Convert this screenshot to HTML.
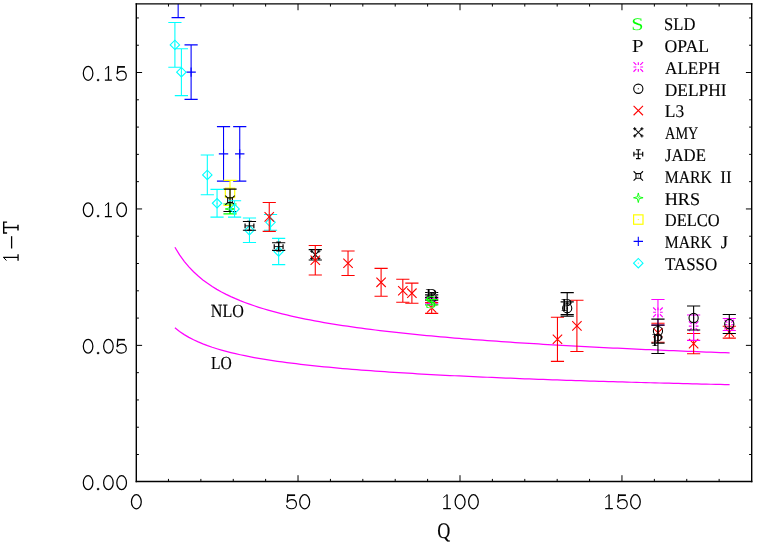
<!DOCTYPE html><html><head><meta charset="utf-8"><title>1-T vs Q</title>
<style>html,body{margin:0;padding:0;background:#fff}svg{display:block}text{font-family:"Liberation Serif",serif;fill:#000;text-rendering:geometricPrecision;stroke:#fff;stroke-width:0;paint-order:fill stroke}.n text{stroke-width:.3px}text.k{stroke-width:.1px}text.b{stroke:#000;stroke-width:.15px}</style></head><body>
<svg width="757" height="545" viewBox="0 0 757 545">
<rect width="757" height="545" fill="#fff"/><g opacity=".999">
<defs><clipPath id="c"><rect x="136.3" y="3.95" width="615.4" height="477.5"/></clipPath></defs>
<path d="M174.90,247.25 L179.57,254.90 L184.23,261.37 L188.89,266.93 L193.55,271.79 L198.21,276.08 L202.87,279.91 L207.53,283.36 L212.20,286.49 L216.86,289.34 L221.52,291.96 L226.18,294.37 L230.84,296.61 L235.50,298.69 L240.16,300.64 L244.82,302.46 L249.49,304.17 L254.15,305.78 L258.81,307.31 L263.47,308.75 L268.13,310.12 L272.79,311.42 L277.45,312.66 L282.12,313.84 L286.78,314.97 L291.44,316.05 L296.10,317.08 L300.76,318.08 L305.42,319.03 L310.08,319.95 L314.75,320.83 L319.41,321.68 L324.07,322.51 L328.73,323.30 L333.39,324.07 L338.05,324.81 L342.71,325.53 L347.38,326.22 L352.04,326.90 L356.70,327.56 L361.36,328.19 L366.02,328.81 L370.68,329.41 L375.34,330.00 L380.01,330.56 L384.67,331.12 L389.33,331.66 L393.99,332.19 L398.65,332.70 L403.31,333.20 L407.97,333.69 L412.64,334.17 L417.30,334.63 L421.96,335.09 L426.62,335.54 L431.28,335.97 L435.94,336.40 L440.60,336.82 L445.27,337.23 L449.93,337.63 L454.59,338.02 L459.25,338.41 L463.91,338.79 L468.57,339.16 L473.23,339.52 L477.89,339.88 L482.56,340.23 L487.22,340.57 L491.88,340.91 L496.54,341.24 L501.20,341.56 L505.86,341.89 L510.52,342.20 L515.19,342.51 L519.85,342.81 L524.51,343.11 L529.17,343.41 L533.83,343.70 L538.49,343.98 L543.15,344.26 L547.82,344.54 L552.48,344.81 L557.14,345.08 L561.80,345.35 L566.46,345.61 L571.12,345.86 L575.78,346.12 L580.45,346.37 L585.11,346.61 L589.77,346.85 L594.43,347.09 L599.09,347.33 L603.75,347.56 L608.41,347.79 L613.08,348.02 L617.74,348.24 L622.40,348.46 L627.06,348.68 L631.72,348.90 L636.38,349.11 L641.04,349.32 L645.71,349.53 L650.37,349.73 L655.03,349.93 L659.69,350.13 L664.35,350.33 L669.01,350.53 L673.67,350.72 L678.33,350.91 L683.00,351.10 L687.66,351.28 L692.32,351.47 L696.98,351.65 L701.64,351.83 L706.30,352.01 L710.96,352.19 L715.63,352.36 L720.29,352.53 L724.95,352.70 L729.61,352.87" fill="none" stroke="#ff00ff" stroke-width="1.25"/>
<path d="M174.90,327.80 L179.57,331.47 L184.23,334.61 L188.89,337.36 L193.55,339.78 L198.21,341.94 L202.87,343.89 L207.53,345.66 L212.20,347.28 L216.86,348.76 L221.52,350.13 L226.18,351.40 L230.84,352.59 L235.50,353.70 L240.16,354.74 L244.82,355.72 L249.49,356.64 L254.15,357.52 L258.81,358.35 L263.47,359.13 L268.13,359.88 L272.79,360.60 L277.45,361.28 L282.12,361.93 L286.78,362.56 L291.44,363.16 L296.10,363.74 L300.76,364.29 L305.42,364.83 L310.08,365.35 L314.75,365.84 L319.41,366.32 L324.07,366.79 L328.73,367.24 L333.39,367.67 L338.05,368.10 L342.71,368.51 L347.38,368.90 L352.04,369.29 L356.70,369.67 L361.36,370.03 L366.02,370.39 L370.68,370.73 L375.34,371.07 L380.01,371.40 L384.67,371.72 L389.33,372.03 L393.99,372.34 L398.65,372.63 L403.31,372.93 L407.97,373.21 L412.64,373.49 L417.30,373.76 L421.96,374.03 L426.62,374.29 L431.28,374.54 L435.94,374.79 L440.60,375.04 L445.27,375.28 L449.93,375.52 L454.59,375.75 L459.25,375.98 L463.91,376.20 L468.57,376.42 L473.23,376.63 L477.89,376.84 L482.56,377.05 L487.22,377.25 L491.88,377.45 L496.54,377.65 L501.20,377.84 L505.86,378.04 L510.52,378.22 L515.19,378.41 L519.85,378.59 L524.51,378.77 L529.17,378.94 L533.83,379.12 L538.49,379.29 L543.15,379.46 L547.82,379.62 L552.48,379.78 L557.14,379.95 L561.80,380.10 L566.46,380.26 L571.12,380.41 L575.78,380.57 L580.45,380.72 L585.11,380.87 L589.77,381.01 L594.43,381.16 L599.09,381.30 L603.75,381.44 L608.41,381.58 L613.08,381.71 L617.74,381.85 L622.40,381.98 L627.06,382.12 L631.72,382.25 L636.38,382.38 L641.04,382.50 L645.71,382.63 L650.37,382.75 L655.03,382.88 L659.69,383.00 L664.35,383.12 L669.01,383.24 L673.67,383.35 L678.33,383.47 L683.00,383.59 L687.66,383.70 L692.32,383.81 L696.98,383.92 L701.64,384.03 L706.30,384.14 L710.96,384.25 L715.63,384.36 L720.29,384.46 L724.95,384.57 L729.61,384.67" fill="none" stroke="#ff00ff" stroke-width="1.25"/>
<g clip-path="url(#c)">
<path d="M178.15,-36.88V17.63M171.55,-36.88H184.75M171.55,17.63H184.75" stroke="#0000ff" stroke-width="1.1" fill="none"/>
<path d="M173.45,-9.63H182.85M178.15,-14.33V-4.93" stroke="#0000ff" stroke-width="1.1" fill="none"/>
<path d="M191.11,44.89V99.40M184.51,44.89H197.71M184.51,99.40H197.71" stroke="#0000ff" stroke-width="1.1" fill="none"/>
<path d="M186.41,72.15H195.81M191.11,67.45V76.85" stroke="#0000ff" stroke-width="1.1" fill="none"/>
<path d="M223.53,126.66V181.17M216.93,126.66H230.13M216.93,181.17H230.13" stroke="#0000ff" stroke-width="1.1" fill="none"/>
<path d="M218.83,153.92H228.23M223.53,149.22V158.62" stroke="#0000ff" stroke-width="1.1" fill="none"/>
<path d="M239.74,126.66V181.17M233.14,126.66H246.34M233.14,181.17H246.34" stroke="#0000ff" stroke-width="1.1" fill="none"/>
<path d="M235.04,153.92H244.44M239.74,149.22V158.62" stroke="#0000ff" stroke-width="1.1" fill="none"/>
<path d="M230.02,180.36V205.43M223.42,180.36H236.62M223.42,205.43H236.62" stroke="#ffff00" stroke-width="1.1" fill="none"/>
<rect x="225.32" y="188.19" width="9.40" height="9.40" fill="none" stroke="#ffff00" stroke-width="1.2"/><rect x="229.52" y="192.39" width="1" height="1" fill="#ffff00"/>
<path d="M230.02,204.07V213.88M223.42,204.07H236.62M223.42,213.88H236.62" stroke="#00ff00" stroke-width="1.1" fill="none"/>
<path d="M230.02,204.18L230.97,208.03L234.82,208.98L230.97,209.93L230.02,213.78L229.07,209.93L225.22,208.98L229.07,208.03Z" fill="none" stroke="#00ff00" stroke-width="0.9" stroke-linejoin="round"/><rect x="229.57" y="208.53" width=".9" height=".9" fill="#00ff00"/>
<path d="M230.02,189.08V211.43M223.42,189.08H236.62M223.42,211.43H236.62" stroke="#000" stroke-width="1.1" fill="none"/>
<path d="M225.32,195.55L227.67,197.90M234.72,195.55L232.37,197.90M225.32,204.95L227.67,202.60M234.72,204.95L232.37,202.60M227.67,197.90H232.37V202.60H227.67Z" stroke="#000" stroke-width="1.1" fill="none"/><rect x="229.62" y="199.45" width=".8" height="1.6" fill="#000" opacity=".5"/>
<path d="M174.90,22.54V67.24M168.30,22.54H181.50M168.30,67.24H181.50" stroke="#00ffff" stroke-width="1.1" fill="none"/>
<path d="M170.20,44.89L174.90,40.19L179.60,44.89L174.90,49.59Z" fill="none" stroke="#00ffff" stroke-width="1.1"/><rect x="174.40" y="44.39" width="1" height="1" fill="#00ffff"/>
<path d="M181.39,48.70V95.59M174.79,48.70H187.99M174.79,95.59H187.99" stroke="#00ffff" stroke-width="1.1" fill="none"/>
<path d="M176.69,72.15L181.39,67.45L186.09,72.15L181.39,76.85Z" fill="none" stroke="#00ffff" stroke-width="1.1"/><rect x="180.89" y="71.65" width="1" height="1" fill="#00ffff"/>
<path d="M207.32,155.01V194.80M200.72,155.01H213.92M200.72,194.80H213.92" stroke="#00ffff" stroke-width="1.1" fill="none"/>
<path d="M202.62,174.90L207.32,170.20L212.02,174.90L207.32,179.60Z" fill="none" stroke="#00ffff" stroke-width="1.1"/><rect x="206.82" y="174.40" width="1" height="1" fill="#00ffff"/>
<path d="M217.05,189.35V217.15M210.45,189.35H223.65M210.45,217.15H223.65" stroke="#00ffff" stroke-width="1.1" fill="none"/>
<path d="M212.35,203.25L217.05,198.55L221.75,203.25L217.05,207.95Z" fill="none" stroke="#00ffff" stroke-width="1.1"/><rect x="216.55" y="202.75" width="1" height="1" fill="#00ffff"/>
<path d="M234.56,200.80V217.15M227.96,200.80H241.16M227.96,217.15H241.16" stroke="#00ffff" stroke-width="1.1" fill="none"/>
<path d="M229.86,208.98L234.56,204.28L239.26,208.98L234.56,213.68Z" fill="none" stroke="#00ffff" stroke-width="1.1"/><rect x="234.06" y="208.48" width="1" height="1" fill="#00ffff"/>
<path d="M249.47,217.97V242.50M242.87,217.97H256.07M242.87,242.50H256.07" stroke="#00ffff" stroke-width="1.1" fill="none"/>
<path d="M244.77,230.24L249.47,225.54L254.17,230.24L249.47,234.94Z" fill="none" stroke="#00ffff" stroke-width="1.1"/><rect x="248.97" y="229.74" width="1" height="1" fill="#00ffff"/>
<path d="M270.54,214.43V230.24M263.94,214.43H277.14M263.94,230.24H277.14" stroke="#00ffff" stroke-width="1.1" fill="none"/>
<path d="M265.84,222.33L270.54,217.63L275.24,222.33L270.54,227.03Z" fill="none" stroke="#00ffff" stroke-width="1.1"/><rect x="270.04" y="221.83" width="1" height="1" fill="#00ffff"/>
<path d="M278.65,238.41V264.58M272.05,238.41H285.25M272.05,264.58H285.25" stroke="#00ffff" stroke-width="1.1" fill="none"/>
<path d="M273.95,251.50L278.65,246.80L283.35,251.50L278.65,256.20Z" fill="none" stroke="#00ffff" stroke-width="1.1"/><rect x="278.15" y="251.00" width="1" height="1" fill="#00ffff"/>
<path d="M249.47,221.51V230.24M242.87,221.51H256.07M242.87,230.24H256.07" stroke="#000" stroke-width="1.1" fill="none"/>
<path d="M249.47,221.47V230.27M245.07,223.57V228.17M253.87,223.57V228.17M247.17,221.47H251.77M247.17,230.27H251.77" stroke="#000" stroke-width="1.2" fill="none"/>
<path d="M245.07,225.87H253.87" stroke="#000" stroke-width="0.9" fill="none"/>
<path d="M278.65,242.77V250.41M272.05,242.77H285.25M272.05,250.41H285.25" stroke="#000" stroke-width="1.1" fill="none"/>
<path d="M278.65,242.19V250.99M274.25,244.29V248.89M283.05,244.29V248.89M276.35,242.19H280.95M276.35,250.99H280.95" stroke="#000" stroke-width="1.2" fill="none"/>
<path d="M274.25,246.59H283.05" stroke="#000" stroke-width="0.9" fill="none"/>
<path d="M315.28,249.59V259.95M308.68,249.59H321.88M308.68,259.95H321.88" stroke="#000" stroke-width="1.1" fill="none"/>
<path d="M311.68,251.17L318.88,258.37M311.68,258.37L318.88,251.17" stroke="#000" stroke-width="1.05" fill="none"/>
<path d="M310.08,251.17H313.28M311.68,249.57V252.77M310.08,258.37H313.28M311.68,256.77V259.97M317.28,251.17H320.48M318.88,249.57V252.77M317.28,258.37H320.48M318.88,256.77V259.97" stroke="#000" stroke-width="1.0" fill="none"/>
<path d="M269.25,202.43V231.33M262.65,202.43H275.85M262.65,231.33H275.85" stroke="#ff0000" stroke-width="1.1" fill="none"/>
<path d="M264.55,212.18L273.95,221.58M264.55,221.58L273.95,212.18" stroke="#ff0000" stroke-width="1.1" fill="none"/>
<path d="M315.28,245.50V274.94M308.68,245.50H321.88M308.68,274.94H321.88" stroke="#ff0000" stroke-width="1.1" fill="none"/>
<path d="M310.58,255.52L319.98,264.92M310.58,264.92L319.98,255.52" stroke="#ff0000" stroke-width="1.1" fill="none"/>
<path d="M348.03,250.95V275.48M341.43,250.95H354.63M341.43,275.48H354.63" stroke="#ff0000" stroke-width="1.1" fill="none"/>
<path d="M343.33,258.52L352.73,267.92M343.33,267.92L352.73,258.52" stroke="#ff0000" stroke-width="1.1" fill="none"/>
<path d="M381.10,268.40V296.20M374.50,268.40H387.70M374.50,296.20H387.70" stroke="#ff0000" stroke-width="1.1" fill="none"/>
<path d="M376.40,277.60L385.80,287.00M376.40,287.00L385.80,277.60" stroke="#ff0000" stroke-width="1.1" fill="none"/>
<path d="M402.82,279.30V302.19M396.22,279.30H409.42M396.22,302.19H409.42" stroke="#ff0000" stroke-width="1.1" fill="none"/>
<path d="M398.12,286.05L407.52,295.45M398.12,295.45L407.52,286.05" stroke="#ff0000" stroke-width="1.1" fill="none"/>
<path d="M411.89,283.11V303.28M405.29,283.11H418.49M405.29,303.28H418.49" stroke="#ff0000" stroke-width="1.1" fill="none"/>
<path d="M407.19,288.50L416.59,297.90M407.19,297.90L416.59,288.50" stroke="#ff0000" stroke-width="1.1" fill="none"/>
<path d="M431.67,302.47V313.37M425.07,302.47H438.27M425.07,313.37H438.27" stroke="#ff0000" stroke-width="1.1" fill="none"/>
<path d="M426.97,303.22L436.37,312.62M426.97,312.62L436.37,303.22" stroke="#ff0000" stroke-width="1.1" fill="none"/>
<path d="M557.46,317.19V361.34M550.86,317.19H564.06M550.86,361.34H564.06" stroke="#ff0000" stroke-width="1.1" fill="none"/>
<path d="M552.76,334.56L562.16,343.96M552.76,343.96L562.16,334.56" stroke="#ff0000" stroke-width="1.1" fill="none"/>
<path d="M576.91,300.29V351.53M570.31,300.29H583.51M570.31,351.53H583.51" stroke="#ff0000" stroke-width="1.1" fill="none"/>
<path d="M572.21,321.21L581.61,330.61M572.21,330.61L581.61,321.21" stroke="#ff0000" stroke-width="1.1" fill="none"/>
<path d="M657.96,323.18V342.26M651.36,323.18H664.56M651.36,342.26H664.56" stroke="#ff0000" stroke-width="1.1" fill="none"/>
<path d="M653.26,328.02L662.66,337.42M653.26,337.42L662.66,328.02" stroke="#ff0000" stroke-width="1.1" fill="none"/>
<path d="M693.62,333.54V353.71M687.02,333.54H700.22M687.02,353.71H700.22" stroke="#ff0000" stroke-width="1.1" fill="none"/>
<path d="M688.92,338.92L698.32,348.32M688.92,348.32L698.32,338.92" stroke="#ff0000" stroke-width="1.1" fill="none"/>
<path d="M729.29,326.18V338.17M722.69,326.18H735.89M722.69,338.17H735.89" stroke="#ff0000" stroke-width="1.1" fill="none"/>
<path d="M724.59,327.48L733.99,336.88M724.59,336.88L733.99,327.48" stroke="#ff0000" stroke-width="1.1" fill="none"/>
<path d="M431.67,298.38V303.83M425.07,298.38H438.27M425.07,303.83H438.27" stroke="#ff00ff" stroke-width="1.1" fill="none"/>
<path d="M433.67,301.10L436.47,301.10M429.67,301.10L426.87,301.10M431.67,303.10L431.67,305.90M431.67,299.10L431.67,296.30M433.67,303.10L436.47,305.90M429.67,303.10L426.87,305.90M433.67,299.10L436.47,296.30M429.67,299.10L426.87,296.30" stroke="#ff00ff" stroke-width="1.15" fill="none"/>
<path d="M657.96,299.47V325.09M651.36,299.47H664.56M651.36,325.09H664.56" stroke="#ff00ff" stroke-width="1.1" fill="none"/>
<path d="M659.96,312.28L662.76,312.28M655.96,312.28L653.16,312.28M657.96,314.28L657.96,317.08M657.96,310.28L657.96,307.48M659.96,314.28L662.76,317.08M655.96,314.28L653.16,317.08M659.96,310.28L662.76,307.48M655.96,310.28L653.16,307.48" stroke="#ff00ff" stroke-width="1.15" fill="none"/>
<path d="M729.29,318.55V330.54M722.69,318.55H735.89M722.69,330.54H735.89" stroke="#ff00ff" stroke-width="1.1" fill="none"/>
<path d="M731.29,324.54L734.09,324.54M727.29,324.54L724.49,324.54M729.29,326.54L729.29,329.34M729.29,322.54L729.29,319.74M731.29,326.54L734.09,329.34M727.29,326.54L724.49,329.34M731.29,322.54L734.09,319.74M727.29,322.54L724.49,319.74" stroke="#ff00ff" stroke-width="1.15" fill="none"/>
<path d="M693.62,315.00V340.35M687.02,315.00H700.22M687.02,340.35H700.22" stroke="#ff00ff" stroke-width="1.1" fill="none"/>
<path d="M695.62,326.18L698.42,326.18M691.62,326.18L688.82,326.18M693.62,328.18L693.62,330.98M693.62,324.18L693.62,321.38M695.62,328.18L698.42,330.98M691.62,328.18L688.82,330.98M695.62,324.18L698.42,321.38M691.62,324.18L688.82,321.38" stroke="#ff00ff" stroke-width="1.15" fill="none"/>
<path d="M431.67,294.83V300.29M425.07,294.83H438.27M425.07,300.29H438.27" stroke="#000" stroke-width="1.1" fill="none"/>
<circle cx="431.67" cy="297.56" r="4.6" fill="none" stroke="#000" stroke-width="1.1"/><rect x="431.17" y="297.06" width="1" height="1" fill="#000"/>
<path d="M567.19,301.92V314.46M560.59,301.92H573.79M560.59,314.46H573.79" stroke="#000" stroke-width="1.1" fill="none"/>
<circle cx="567.19" cy="308.19" r="4.6" fill="none" stroke="#000" stroke-width="1.1"/><rect x="566.69" y="307.69" width="1" height="1" fill="#000"/>
<path d="M657.96,319.09V343.08M651.36,319.09H664.56M651.36,343.08H664.56" stroke="#000" stroke-width="1.1" fill="none"/>
<circle cx="657.96" cy="331.09" r="4.6" fill="none" stroke="#000" stroke-width="1.1"/><rect x="657.46" y="330.59" width="1" height="1" fill="#000"/>
<path d="M693.62,306.01V330.00M687.02,306.01H700.22M687.02,330.00H700.22" stroke="#000" stroke-width="1.1" fill="none"/>
<circle cx="693.62" cy="318.00" r="4.6" fill="none" stroke="#000" stroke-width="1.1"/><rect x="693.12" y="317.50" width="1" height="1" fill="#000"/>
<path d="M729.29,314.46V333.54M722.69,314.46H735.89M722.69,333.54H735.89" stroke="#000" stroke-width="1.1" fill="none"/>
<circle cx="729.29" cy="324.00" r="4.6" fill="none" stroke="#000" stroke-width="1.1"/><rect x="728.79" y="323.50" width="1" height="1" fill="#000"/>
<path d="M431.67,292.52V297.42M425.07,292.52H438.27M425.07,297.42H438.27" stroke="#000" stroke-width="1.1" fill="none"/>
<text transform="translate(425.23,301.47) scale(1.170,1)" font-size="18.32" style="fill:#000" xml:space="preserve" class="k">P</text>
<path d="M567.19,292.65V316.10M560.59,292.65H573.79M560.59,316.10H573.79" stroke="#000" stroke-width="1.1" fill="none"/>
<text transform="translate(560.74,310.87) scale(1.170,1)" font-size="18.32" style="fill:#000" xml:space="preserve" class="k">P</text>
<path d="M657.96,325.09V353.44M651.36,325.09H664.56M651.36,353.44H664.56" stroke="#000" stroke-width="1.1" fill="none"/>
<text transform="translate(651.52,345.76) scale(1.170,1)" font-size="18.32" style="fill:#000" xml:space="preserve" class="k">P</text>
<path d="M431.67,299.47V304.92M425.07,299.47H438.27M425.07,304.92H438.27" stroke="#00ff00" stroke-width="1.1" fill="none"/>
<text transform="translate(424.72,308.04) scale(1.245,1)" font-size="17.79" style="fill:#00ff00" xml:space="preserve" class="k">S</text>
</g>
<path d="M168.46,481.50v-2.6M168.46,3.95v2.6M200.86,481.50v-2.6M200.86,3.95v2.6M233.25,481.50v-2.6M233.25,3.95v2.6M265.64,481.50v-2.6M265.64,3.95v2.6M298.03,481.50v-6.3M298.03,3.95v6.3M330.43,481.50v-2.6M330.43,3.95v2.6M362.82,481.50v-2.6M362.82,3.95v2.6M395.21,481.50v-2.6M395.21,3.95v2.6M427.61,481.50v-2.6M427.61,3.95v2.6M460.00,481.50v-6.3M460.00,3.95v6.3M492.39,481.50v-2.6M492.39,3.95v2.6M524.79,481.50v-2.6M524.79,3.95v2.6M557.18,481.50v-2.6M557.18,3.95v2.6M589.57,481.50v-2.6M589.57,3.95v2.6M621.96,481.50v-6.3M621.96,3.95v6.3M654.36,481.50v-2.6M654.36,3.95v2.6M686.75,481.50v-2.6M686.75,3.95v2.6M719.14,481.50v-2.6M719.14,3.95v2.6M136.30,454.51h2.6M751.70,454.51h-2.6M136.30,427.23h2.6M751.70,427.23h-2.6M136.30,399.94h2.6M751.70,399.94h-2.6M136.30,372.66h2.6M751.70,372.66h-2.6M136.30,345.37h5.8M751.70,345.37h-5.8M136.30,318.08h2.6M751.70,318.08h-2.6M136.30,290.80h2.6M751.70,290.80h-2.6M136.30,263.51h2.6M751.70,263.51h-2.6M136.30,236.23h2.6M751.70,236.23h-2.6M136.30,208.94h5.8M751.70,208.94h-5.8M136.30,181.65h2.6M751.70,181.65h-2.6M136.30,154.37h2.6M751.70,154.37h-2.6M136.30,127.08h2.6M751.70,127.08h-2.6M136.30,99.80h2.6M751.70,99.80h-2.6M136.30,72.51h5.8M751.70,72.51h-5.8M136.30,45.22h2.6M751.70,45.22h-2.6M136.30,17.94h2.6M751.70,17.94h-2.6" stroke="#000" stroke-width="1" fill="none"/>
<path d="M136.3,3.3V482.15M751.7,3.3V482.15" stroke="#000" stroke-width="1.4" fill="none"/>
<path d="M135.6,3.95H752.4M135.6,481.5H752.4" stroke="#000" stroke-width="1.3" fill="none"/>
<g class="n">
<ellipse cx="88.10" cy="482.65" rx="4.77" ry="6.93" fill="none" stroke="#000" stroke-width="1.25"/>
<text transform="translate(95.31,490.05) scale(1.042,1)" font-size="21.82" style="fill:#000" xml:space="preserve">.</text>
<ellipse cx="108.40" cy="482.65" rx="4.77" ry="6.93" fill="none" stroke="#000" stroke-width="1.25"/>
<ellipse cx="121.65" cy="482.65" rx="4.82" ry="6.93" fill="none" stroke="#000" stroke-width="1.25"/>
<ellipse cx="88.10" cy="346.22" rx="4.77" ry="6.93" fill="none" stroke="#000" stroke-width="1.25"/>
<text transform="translate(95.31,353.62) scale(1.042,1)" font-size="21.82" style="fill:#000" xml:space="preserve">.</text>
<ellipse cx="108.40" cy="346.22" rx="4.77" ry="6.93" fill="none" stroke="#000" stroke-width="1.25"/>
<path d="M124.95,339.75L117.85,339.75" fill="none" stroke="#000" stroke-width="1.7"/><path d="M117.85,339.16L117.22,346.59C118.53,344.83 119.89,344.05 121.45,344.05C124.47,344.05 126.27,346.10 126.27,348.64C126.27,351.28 124.18,353.08 121.45,353.08C119.11,353.08 116.97,351.76 116.68,349.91" fill="none" stroke="#000" stroke-width="1.2" stroke-linecap="round" stroke-linejoin="round"/>
<ellipse cx="88.10" cy="209.79" rx="4.77" ry="6.92" fill="none" stroke="#000" stroke-width="1.25"/>
<text transform="translate(95.31,217.19) scale(1.042,1)" font-size="21.82" style="fill:#000" xml:space="preserve">.</text>
<path d="M108.46,202.54L108.46,216.69M104.88,216.60L111.90,216.60" fill="none" stroke="#000" stroke-width="1.3"/><path d="M108.36,202.93L105.06,205.61" fill="none" stroke="#000" stroke-width="1.0"/>
<ellipse cx="121.65" cy="209.79" rx="4.82" ry="6.92" fill="none" stroke="#000" stroke-width="1.25"/>
<ellipse cx="88.10" cy="73.36" rx="4.77" ry="6.92" fill="none" stroke="#000" stroke-width="1.25"/>
<text transform="translate(95.31,80.76) scale(1.042,1)" font-size="21.82" style="fill:#000" xml:space="preserve">.</text>
<path d="M108.46,66.11L108.46,80.27M104.88,80.17L111.90,80.17" fill="none" stroke="#000" stroke-width="1.3"/><path d="M108.36,66.50L105.06,69.18" fill="none" stroke="#000" stroke-width="1.0"/>
<path d="M124.95,66.89L117.85,66.89" fill="none" stroke="#000" stroke-width="1.7"/><path d="M117.85,66.30L117.22,73.73C118.53,71.97 119.89,71.19 121.45,71.19C124.47,71.19 126.27,73.24 126.27,75.78C126.27,78.42 124.18,80.22 121.45,80.22C119.11,80.22 116.97,78.90 116.68,77.05" fill="none" stroke="#000" stroke-width="1.2" stroke-linecap="round" stroke-linejoin="round"/>
<ellipse cx="136.35" cy="501.77" rx="4.92" ry="7.05" fill="none" stroke="#000" stroke-width="1.25"/>
<path d="M295.10,495.19L287.80,495.19" fill="none" stroke="#000" stroke-width="1.7"/><path d="M287.80,494.60L287.15,502.15C288.50,500.36 289.90,499.56 291.50,499.56C294.60,499.56 296.45,501.65 296.45,504.23C296.45,506.92 294.30,508.75 291.50,508.75C289.10,508.75 286.90,507.41 286.60,505.53" fill="none" stroke="#000" stroke-width="1.2" stroke-linecap="round" stroke-linejoin="round"/>
<ellipse cx="304.70" cy="501.77" rx="4.97" ry="7.05" fill="none" stroke="#000" stroke-width="1.25"/>
<path d="M447.10,494.40L447.10,508.80M443.20,508.70L450.85,508.70" fill="none" stroke="#000" stroke-width="1.3"/><path d="M447.00,494.80L443.40,497.52" fill="none" stroke="#000" stroke-width="1.0"/>
<ellipse cx="460.10" cy="501.77" rx="4.97" ry="7.05" fill="none" stroke="#000" stroke-width="1.25"/>
<ellipse cx="473.45" cy="501.77" rx="4.82" ry="7.05" fill="none" stroke="#000" stroke-width="1.25"/>
<path d="M609.10,494.40L609.10,508.80M605.20,508.70L612.85,508.70" fill="none" stroke="#000" stroke-width="1.3"/><path d="M609.00,494.80L605.40,497.52" fill="none" stroke="#000" stroke-width="1.0"/>
<path d="M625.90,495.19L618.60,495.19" fill="none" stroke="#000" stroke-width="1.7"/><path d="M618.60,494.60L617.95,502.15C619.30,500.36 620.70,499.56 622.30,499.56C625.40,499.56 627.25,501.65 627.25,504.23C627.25,506.92 625.10,508.75 622.30,508.75C619.90,508.75 617.70,507.41 617.40,505.53" fill="none" stroke="#000" stroke-width="1.2" stroke-linecap="round" stroke-linejoin="round"/>
<ellipse cx="635.45" cy="501.77" rx="4.82" ry="7.05" fill="none" stroke="#000" stroke-width="1.25"/>
</g>
<text x="82" y="490.0" font-size="22" style="fill:none;stroke:none">0.00</text>
<text x="82" y="353.6" font-size="22" style="fill:none;stroke:none">0.05</text>
<text x="82" y="217.1" font-size="22" style="fill:none;stroke:none">0.10</text>
<text x="82" y="80.7" font-size="22" style="fill:none;stroke:none">0.15</text>
<text x="136.1" y="509.3" font-size="22" text-anchor="middle" style="fill:none;stroke:none">0</text>
<text x="298.0" y="509.3" font-size="22" text-anchor="middle" style="fill:none;stroke:none">50</text>
<text x="460.0" y="509.3" font-size="22" text-anchor="middle" style="fill:none;stroke:none">100</text>
<text x="622.0" y="509.3" font-size="22" text-anchor="middle" style="fill:none;stroke:none">150</text>
<text x="3" y="250" font-size="10" style="fill:none;stroke:none">1−T</text>
<text transform="translate(437.33,537.70) scale(0.816,1)" font-size="22.14" style="fill:#000" xml:space="preserve" class="b">Q</text>
<g transform="translate(18.7,0) rotate(-90)">
<path d="M-233,-11.6V-15H-222.1V-11.6M-227.55,-15V-0.7M-230.4,-0.7H-224.7" fill="none" stroke="#000" stroke-width="1.45"/>
<path d="M-257.41,-15.49L-257.41,-0.52M-260.74,-0.63L-254.20,-0.63" fill="none" stroke="#000" stroke-width="1.3"/><path d="M-257.49,-15.07L-260.57,-12.25" fill="none" stroke="#000" stroke-width="1.0"/>
<rect x="-248.5" y="-7.75" width="12.3" height="1.3" fill="#000"/>
</g>
<text transform="translate(210.87,316.75) scale(0.869,1)" font-size="18.55" style="fill:#000" xml:space="preserve" class="b">NLO</text>
<text transform="translate(210.88,368.55) scale(0.850,1)" font-size="18.40" style="fill:#000" xml:space="preserve" class="b">LO</text>
<text transform="translate(631.35,29.55) scale(1.245,1)" font-size="17.79" style="fill:#00ff00" xml:space="preserve" class="k">S</text>
<text transform="translate(664.09,30.25) scale(0.924,1)" font-size="17.94" style="fill:#000" xml:space="preserve" class="b">SLD</text>
<text transform="translate(631.86,52.00) scale(1.170,1)" font-size="18.32" style="fill:#000" xml:space="preserve" class="k">P</text>
<text transform="translate(664.54,52.05) scale(0.986,1)" font-size="17.94" style="fill:#000" xml:space="preserve" class="b">OPAL</text>
<path d="M640.30,66.95L643.10,66.95M636.30,66.95L633.50,66.95M638.30,68.95L638.30,71.75M638.30,64.95L638.30,62.15M640.30,68.95L643.10,71.75M636.30,68.95L633.50,71.75M640.30,64.95L643.10,62.15M636.30,64.95L633.50,62.15" stroke="#ff00ff" stroke-width="1.15" fill="none"/>
<text transform="translate(665.08,73.85) scale(0.950,1)" font-size="17.94" style="fill:#000" xml:space="preserve" class="b">ALEPH</text>
<circle cx="638.30" cy="88.75" r="4.6" fill="none" stroke="#000" stroke-width="1.1"/><rect x="637.80" y="88.25" width="1" height="1" fill="#000"/>
<text transform="translate(664.73,95.65) scale(0.968,1)" font-size="17.94" style="fill:#000" xml:space="preserve" class="b">DELPHI</text>
<path d="M633.60,105.85L643.00,115.25M633.60,115.25L643.00,105.85" stroke="#ff0000" stroke-width="1.1" fill="none"/>
<text transform="translate(664.73,117.45) scale(0.976,1)" font-size="17.94" style="fill:#000" xml:space="preserve" class="b">L3</text>
<path d="M634.70,128.75L641.90,135.95M634.70,135.95L641.90,128.75" stroke="#000" stroke-width="1.05" fill="none"/>
<path d="M633.10,128.75H636.30M634.70,127.15V130.35M633.10,135.95H636.30M634.70,134.35V137.55M640.30,128.75H643.50M641.90,127.15V130.35M640.30,135.95H643.50M641.90,134.35V137.55" stroke="#000" stroke-width="1.0" fill="none"/>
<text transform="translate(665.11,139.25) scale(0.795,1)" font-size="17.94" style="fill:#000" xml:space="preserve" class="b">AMY</text>
<path d="M638.30,149.75V158.55M633.90,151.85V156.45M642.70,151.85V156.45M636.00,149.75H640.60M636.00,158.55H640.60" stroke="#000" stroke-width="1.2" fill="none"/>
<path d="M633.90,154.15H642.70" stroke="#000" stroke-width="0.9" fill="none"/>
<text transform="translate(664.91,161.05) scale(0.934,1)" font-size="17.94" style="fill:#000" xml:space="preserve" class="b">JADE</text>
<path d="M633.60,171.25L635.95,173.60M643.00,171.25L640.65,173.60M633.60,180.65L635.95,178.30M643.00,180.65L640.65,178.30M635.95,173.60H640.65V178.30H635.95Z" stroke="#000" stroke-width="1.1" fill="none"/><rect x="637.90" y="175.15" width=".8" height="1.6" fill="#000" opacity=".5"/>
<text transform="translate(664.78,182.85) scale(0.876,1)" font-size="17.94" style="fill:#000" xml:space="preserve" class="b">MARK</text>
<text transform="translate(720.37,182.85) scale(0.954,1)" font-size="17.94" style="fill:#000" xml:space="preserve" class="b">II</text>
<path d="M638.30,192.95L639.25,196.80L643.10,197.75L639.25,198.70L638.30,202.55L637.35,198.70L633.50,197.75L637.35,196.80Z" fill="none" stroke="#00ff00" stroke-width="0.9" stroke-linejoin="round"/><rect x="637.85" y="197.30" width=".9" height=".9" fill="#00ff00"/>
<text transform="translate(664.70,204.65) scale(1.015,1)" font-size="17.94" style="fill:#000" xml:space="preserve" class="b">HRS</text>
<rect x="633.60" y="214.85" width="9.40" height="9.40" fill="none" stroke="#ffff00" stroke-width="1.2"/><rect x="637.80" y="219.05" width="1" height="1" fill="#ffff00"/>
<text transform="translate(664.76,226.45) scale(0.918,1)" font-size="17.94" style="fill:#000" xml:space="preserve" class="b">DELCO</text>
<path d="M633.60,241.35H643.00M638.30,236.65V246.05" stroke="#0000ff" stroke-width="1.1" fill="none"/>
<text transform="translate(664.78,248.25) scale(0.876,1)" font-size="17.94" style="fill:#000" xml:space="preserve" class="b">MARK</text>
<text transform="translate(720.67,248.25) scale(1.051,1)" font-size="17.94" style="fill:#000" xml:space="preserve" class="b">J</text>
<path d="M633.60,263.15L638.30,258.45L643.00,263.15L638.30,267.85Z" fill="none" stroke="#00ffff" stroke-width="1.1"/><rect x="637.80" y="262.65" width="1" height="1" fill="#00ffff"/>
<text transform="translate(664.91,270.05) scale(0.946,1)" font-size="17.94" style="fill:#000" xml:space="preserve" class="b">TASSO</text>
</g></svg></body></html>
